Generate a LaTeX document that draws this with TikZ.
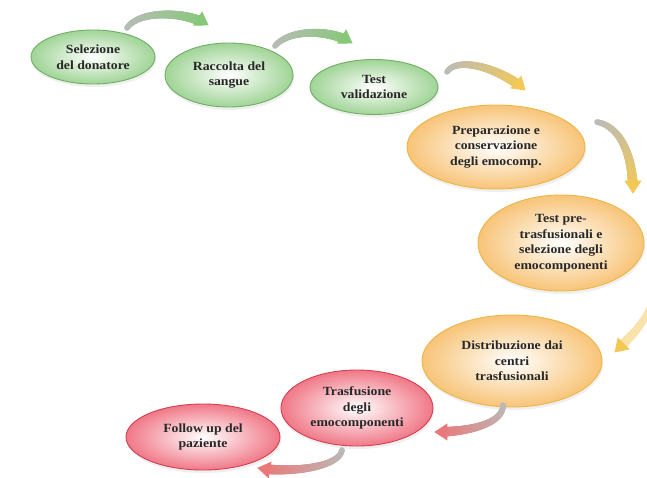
\documentclass[tikz,border=0pt]{standalone}
\usepackage{fontspec}
\setmainfont[FakeStretch=1.1]{Liberation Serif}
\usetikzlibrary{shapes.geometric,decorations.markings,shadows}
\definecolor{gfill}{RGB}{160,212,150}
\definecolor{gline}{RGB}{110,175,100}
\definecolor{ofill}{RGB}{248,196,120}
\definecolor{oline}{RGB}{236,182,70}
\definecolor{rfill}{RGB}{240,120,135}
\definecolor{rline}{RGB}{212,62,82}
\definecolor{agray}{RGB}{185,188,185}
\definecolor{agreen}{RGB}{135,200,120}
\definecolor{ayellow}{RGB}{244,200,85}
\definecolor{ared}{RGB}{235,120,120}
\definecolor{txt}{RGB}{40,40,40}
\newcommand\bandarrow[4]{%
  \path[decoration={markings,
     mark=between positions 0 and -9pt step 0.6pt with {%
       \pgfmathsetmacro\bfrac{\pgfkeysvalueof{/pgf/decoration/mark info/distance from start}/\pgfdecoratedpathlength}%
       \pgfmathtruncatemacro\bmix{min(100,max(0,100*\bfrac))}%
       \pgfmathsetmacro\brad{2.8+2.4*\bfrac}%
       \fill[#2!\bmix!#1] (0pt,0pt) circle (\brad pt);},
     mark=at position -0.2pt with {\fill[#2] (-12pt,-8.5pt) -- (1pt,0pt) -- (-12pt,8.5pt) -- cycle;}},
   decorate] #3 #4;%
}
\tikzset{
  stage/.style={ellipse, inner sep=0pt, align=center, text=txt,
    font=\bfseries\fontsize{12.5}{15.5}\selectfont, line width=0.9pt,
    drop shadow={opacity=0.12, shadow xshift=1pt, shadow yshift=-3pt}},
  gstage/.style={stage, draw=gline, inner color=white, outer color=gfill},
  ostage/.style={stage, draw=oline, inner color=white, outer color=ofill},
  rstage/.style={stage, draw=rline, inner color=white, outer color=rfill}
}
\begin{document}
\begin{tikzpicture}[x=1pt,y=-1pt]
\useasboundingbox (0,0) rectangle (647,477);
\fill[white] (0,0) rectangle (647,477);

\node[gstage, minimum width=124, minimum height=54] (n1) at (93,57) {Selezione\\del donatore};
\node[gstage, minimum width=128, minimum height=64] (n2) at (229,75) {Raccolta del\\sangue};
\node[gstage, minimum width=128, minimum height=55] (n3) at (374,87) {Test\\validazione};
\node[ostage, minimum width=178, minimum height=84] (n4) at (496,147) {Preparazione e\\conservazione\\degli emocomp.};
\node[ostage, minimum width=166, minimum height=96] (n5) at (561,243) {Test pre-\\trasfusionali e\\selezione degli\\emocomponenti};
\node[ostage, minimum width=180, minimum height=92] (n6) at (512,361) {Distribuzione dai\\centri\\trasfusionali};
\node[rstage, minimum width=152, minimum height=76] (n7) at (357,408) {Trasfusione\\degli\\emocomponenti};
\node[rstage, minimum width=154, minimum height=66] (n8) at (203,437) {Follow up del\\paziente};

\coordinate (a1s) at (127,28);  \coordinate (a1e) at (208,25);
\coordinate (a2s) at (275,46);  \coordinate (a2e) at (352,43);
\coordinate (a3s) at (447,72);  \coordinate (a3e) at (525,90);
\coordinate (a4s) at (597,122); \coordinate (a4e) at (633,193);
\coordinate (a5s) at (652,300); \coordinate (a5e) at (615,352);
\coordinate (a6s) at (503,405); \coordinate (a6e) at (435,432);
\coordinate (a7s) at (342,450); \coordinate (a7e) at (258,468);

\bandarrow{agray}{agreen}{(a1s)}{.. controls +(12,-18) and +(-22,-14) .. (a1e)}
\bandarrow{agray}{agreen}{(a2s)}{.. controls +(14,-17) and +(-22,-14) .. (a2e)}
\bandarrow{agray}{ayellow}{(a3s)}{.. controls +(10,-16) and +(-25,-22) .. (a3e)}
\bandarrow{agray}{ayellow}{(a4s)}{.. controls +(25,5) and +(0,-35) .. (a4e)}
\bandarrow{ayellow!50}{ayellow}{(a5s)}{.. controls +(-5,22) and +(15,-15) .. (a5e)}
\bandarrow{agray}{ared}{(a6s)}{.. controls +(0,20) and +(30,0) .. (a6e)}
\bandarrow{agray}{ared}{(a7s)}{.. controls +(-3,18) and +(30,5) .. (a7e)}
\end{tikzpicture}
\end{document}
